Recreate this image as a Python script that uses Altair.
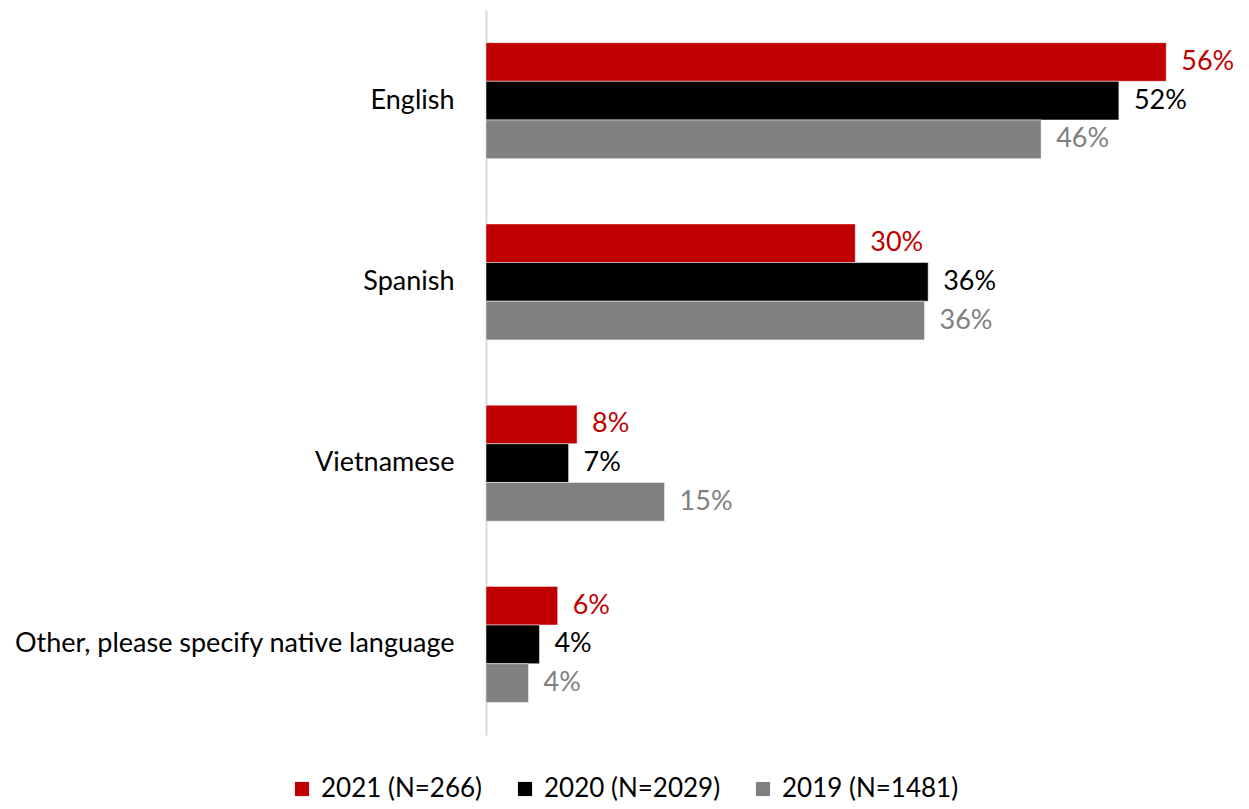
import altair as alt
import pandas as pd

categories = ["English", "Spanish", "Vietnamese", "Other, please specify native language"]
series = ["2021 (N=266)", "2020 (N=2029)", "2019 (N=1481)"]
values_2021 = [56.0, 30.4, 7.5, 5.9]
values_2020 = [52.1, 36.4, 6.8, 4.4]
values_2019 = [45.7, 36.1, 14.7, 3.5]
labels_2021 = ["56%", "30%", "8%", "6%"]
labels_2020 = ["52%", "36%", "7%", "4%"]
labels_2019 = ["46%", "36%", "15%", "4%"]
colors = ["#C00000", "#000000", "#808080"]

rows = []
for s, vals, labs in zip(series, [values_2021, values_2020, values_2019],
                         [labels_2021, labels_2020, labels_2019]):
    for c, v, l in zip(categories, vals, labs):
        rows.append({"category": c, "series": s, "value": v, "label": l})
df = pd.DataFrame(rows)

FONT = "Lato"

y = alt.Y("category:N", sort=categories, title=None,
          scale=alt.Scale(paddingInner=0.36, paddingOuter=0.18),
          axis=alt.Axis(labelFontSize=27, labelFont=FONT, labelColor="#000000",
                        ticks=False, labelPadding=32, domainColor="#D9D9D9",
                        domainWidth=2, labelLimit=700))
x = alt.X("value:Q", title=None, scale=alt.Scale(domain=[0, 61], nice=False),
          axis=None)
color = alt.Color("series:N", sort=series,
                  scale=alt.Scale(domain=series, range=colors),
                  legend=alt.Legend(orient="none", legendX=-197, legendY=766,
                                    title=None, direction="horizontal",
                                    labelFontSize=26, labelFont=FONT, symbolType="square",
                                    symbolSize=200, symbolStrokeWidth=0, columnPadding=29,
                                    labelOffset=6, labelColor="#000000", labelLimit=400))
yoff = alt.YOffset("series:N", sort=series, scale=alt.Scale(domain=series, paddingInner=0, paddingOuter=0))

bars = alt.Chart(df).mark_bar(stroke="white", strokeWidth=0.5).encode(
    y=y, x=x, color=color, yOffset=yoff)

text = alt.Chart(df).mark_text(align="left", baseline="middle", dx=15, fontSize=27,
                               font=FONT).encode(
    y=y, x=x, yOffset=yoff, text="label:N",
    color=alt.Color("series:N", sort=series, scale=alt.Scale(domain=series, range=colors),
                    legend=None))

chart = (bars + text).properties(
    width=741, height=725,
    padding={"left": 5, "top": 2, "right": 5, "bottom": 5}
).configure_view(stroke=None)

chart.save("out.html", embed_options={"renderer": "svg", "actions": False})
